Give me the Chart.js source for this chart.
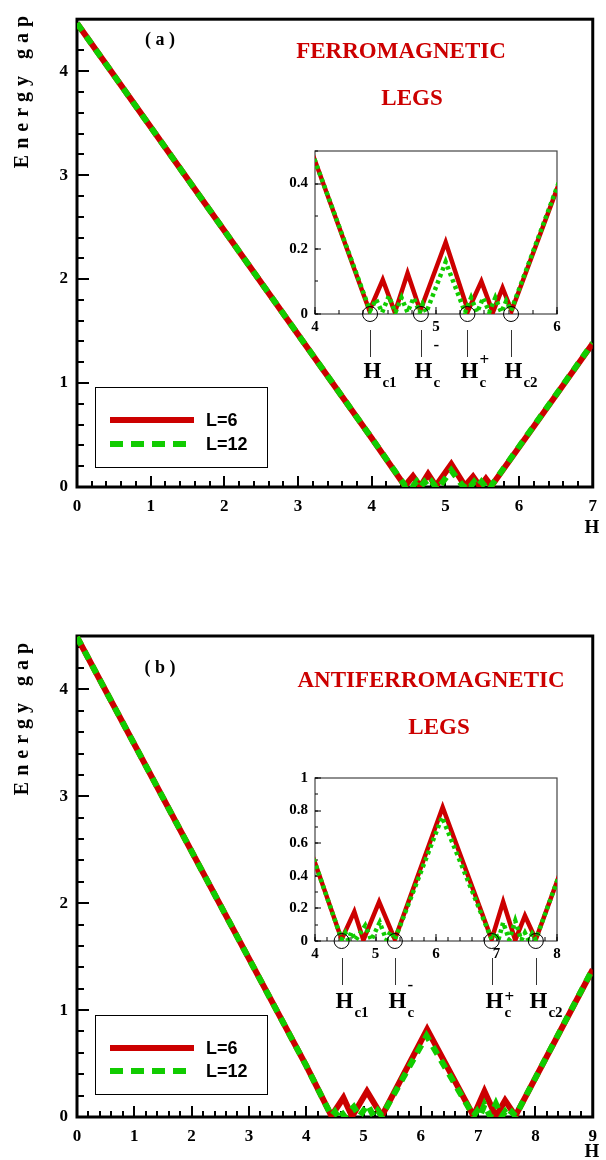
<!DOCTYPE html>
<html>
<head>
<meta charset="utf-8">
<script src="https://cdn.jsdelivr.net/npm/chart.js@4.4.1/dist/chart.umd.min.js"></script>
<style>
  body { margin: 0; background: #fff; }
  #wrap { position: relative; width: 606px; height: 1160px; overflow: hidden; }
  canvas { position: absolute; }
</style>
</head>
<body>
<div id="wrap">
  <canvas id="mainA" style="left:0px;top:0px" width="606" height="560"></canvas>
  <canvas id="mainB" style="left:0px;top:590px" width="606" height="570"></canvas>
  <canvas id="insetA" style="left:275px;top:135px" width="290" height="265"></canvas>
  <canvas id="insetB" style="left:275px;top:762px" width="290" height="265"></canvas>
</div>
<script>
const RED = "#cc0000";
const GREEN = "#11cc00";
const SERIF = "'Liberation Serif', 'Times New Roman', serif";
const SANS = "'Liberation Sans', Arial, sans-serif";

// (a) ferromagnetic legs
const hA6  = [0, 4, 4.45, 4.56, 4.66, 4.765, 4.87, 5.08, 5.265, 5.375, 5.47, 5.55, 5.625, 7];
const eA6  = [4.46, 0.47, 0.01, 0.105, 0.005, 0.125, 0.01, 0.22, 0.01, 0.10, 0.005, 0.08, 0.01, 1.38];
const hA12 = [0, 4, 4.455, 4.505, 4.555, 4.61, 4.665, 4.715, 4.765, 4.815, 4.865, 4.89, 4.92, 5.08, 5.24, 5.29, 5.34, 5.39, 5.44, 5.49, 5.54, 5.58, 5.62, 7];
const eA12 = [4.46, 0.47, 0.01, 0.045, 0.005, 0.055, 0.005, 0.05, 0.005, 0.05, 0.005, 0.03, 0.005, 0.16, 0.005, 0.05, 0.005, 0.05, 0.005, 0.05, 0.005, 0.04, 0.01, 1.385];
const hcA  = [4.455, 4.875, 5.26, 5.62];

// (b) antiferromagnetic legs
const hB6  = [0, 4, 4.44, 4.65, 4.80, 5.06, 5.32, 6.11, 6.92, 7.11, 7.31, 7.47, 7.65, 9];
const eB6  = [4.49, 0.48, 0.01, 0.18, 0.005, 0.24, 0.01, 0.82, 0.01, 0.24, 0.005, 0.155, 0.01, 1.38];
const hB12 = [0, 4, 4.44, 4.50, 4.55, 4.60, 4.67, 4.83, 4.93, 5.07, 5.18, 5.25, 5.32, 6.10, 6.92, 6.98, 7.03, 7.11, 7.21, 7.31, 7.41, 7.47, 7.53, 7.59, 7.65, 9];
const eB12 = [4.49, 0.48, 0.01, 0.05, 0.005, 0.055, 0.005, 0.095, 0.005, 0.114, 0.005, 0.06, 0.01, 0.76, 0.01, 0.055, 0.005, 0.114, 0.005, 0.124, 0.005, 0.05, 0.005, 0.045, 0.01, 1.385];
const hcB  = [4.44, 5.32, 6.92, 7.65];

const hcNames = [["c1", ""], ["c", "-"], ["c", "+"], ["c2", ""]];

const xTicksA = [0, 1, 2, 3, 4, 5, 6, 7];
const xTicksB = [0, 1, 2, 3, 4, 5, 6, 7, 8, 9];
const yTicksMain = [0, 1, 2, 3, 4];
const xTicksInA = [4, 5, 6];
const yTicksInA = [0, 0.2, 0.4];
const xTicksInB = [4, 5, 6, 7, 8];
const yTicksInB = [0, 0.2, 0.4, 0.6, 0.8, 1];

function pts(xs, ys) {
  return xs.map((x, i) => ({ x: x, y: ys[i] }));
}

function tickMarks(ctx, chart, axis, step, len) {
  const a = chart.chartArea, s = chart.scales[axis];
  const n = Math.floor((s.max - s.min) / step + 1e-6);
  ctx.beginPath();
  for (let i = 0; i <= n; i++) {
    const p = Math.round(s.getPixelForValue(s.min + i * step));
    if (axis === "x") { ctx.moveTo(p, a.bottom); ctx.lineTo(p, a.bottom - len); }
    else { ctx.moveTo(a.left, p); ctx.lineTo(a.left + len, p); }
  }
  ctx.stroke();
}

const decor = {
  id: "decor",
  beforeDatasetsDraw(chart, args, o) {
    const ctx = chart.ctx, a = chart.chartArea;
    ctx.save();
    ctx.strokeStyle = o.frameColor;
    ctx.lineWidth = o.frame;
    ctx.strokeRect(a.left, a.top, a.right - a.left, a.bottom - a.top);
    ctx.strokeStyle = "#000";
    ctx.lineWidth = o.tickWidth;
    tickMarks(ctx, chart, "x", o.xMinor[0], o.xMinor[1]);
    tickMarks(ctx, chart, "x", o.xMajor[0], o.xMajor[1]);
    tickMarks(ctx, chart, "y", o.yMinor[0], o.yMinor[1]);
    tickMarks(ctx, chart, "y", o.yMajor[0], o.yMajor[1]);
    ctx.restore();
  },
  afterDatasetsDraw(chart, args, o) {
    const ctx = chart.ctx, a = chart.chartArea;
    ctx.save();
    (o.texts || []).forEach(t => {
      ctx.font = t.font;
      ctx.fillStyle = t.color || "#000";
      ctx.textAlign = "center";
      ctx.textBaseline = "middle";
      if (t.rotate) {
        ctx.save();
        ctx.translate(t.x, t.y);
        ctx.rotate(-Math.PI / 2);
        ctx.letterSpacing = t.spacing || "0px";
        ctx.fillText(t.text, 0, 0);
        ctx.restore();
      } else {
        ctx.fillText(t.text, t.x, t.y);
      }
    });

    if (o.legend) {
      const L = o.legend;
      ctx.lineWidth = 1;
      ctx.strokeStyle = "#000";
      ctx.strokeRect(L.x + 0.5, L.y + 0.5, L.w, L.h);
      chart.data.datasets.slice(0, 2).forEach((ds, i) => {
        const y = L.y + L.rows[i];
        ctx.strokeStyle = ds.borderColor;
        ctx.lineWidth = 6;
        ctx.setLineDash(i === 1 ? [13, 8] : []);
        ctx.beginPath();
        ctx.moveTo(L.x + 15, y);
        ctx.lineTo(L.x + 99, y);
        ctx.stroke();
        ctx.setLineDash([]);
        ctx.fillStyle = "#000";
        ctx.font = "bold 18px " + SANS;
        ctx.textAlign = "left";
        ctx.textBaseline = "middle";
        ctx.fillText(ds.label, L.x + 111, y + 1);
      });
    }

    if (o.crit) {
      const C = o.crit, xs = chart.scales.x;
      C.values.forEach((v, i) => {
        const p = Math.round(xs.getPixelForValue(v)) + 0.5;
        ctx.strokeStyle = "#333";
        ctx.lineWidth = 1;
        ctx.beginPath();
        ctx.moveTo(p, a.bottom + C.lineTop);
        ctx.lineTo(p, a.bottom + C.lineTop + 27);
        ctx.stroke();
        const base = a.bottom + C.base;
        ctx.fillStyle = "#000";
        ctx.textBaseline = "alphabetic";
        ctx.textAlign = "left";
        ctx.font = "bold 23px " + SERIF;
        const hw = ctx.measureText("H").width;
        const hx = p - hw / 2 + 2;
        ctx.fillText("H", hx, base);
        ctx.font = "bold 15px " + SERIF;
        ctx.fillText(hcNames[i][0], hx + hw + 1, base + 9);
        const sup = hcNames[i][1];
        if (sup) {
          ctx.font = "bold 17px " + SERIF;
          ctx.fillText(sup, hx + hw + 1, base + (sup === "-" ? C.minusDy : C.plusDy));
        }
      });
    }
    ctx.restore();
  }
};

function tickFont(size) {
  return { family: SERIF, size: size, weight: "bold" };
}

function fmt(v) {
  return String(Math.round(v * 10) / 10);
}

function axis(min, max, ticks, size, pad, fit) {
  return {
    type: "linear", min: min, max: max,
    grid: { display: false, drawTicks: false },
    border: { display: false },
    afterBuildTicks: s => { s.ticks = ticks.map(v => ({ value: v })); },
    afterFit: fit,
    ticks: { font: tickFont(size), color: "#000", padding: pad, autoSkip: false, maxRotation: 0, callback: fmt }
  };
}

// green (L=12) has the lower order so it is painted over the red (L=6) curve
function lineSets(h6, e6, h12, e12, w, dash) {
  return [
    { label: "L=6", data: pts(h6, e6), borderColor: RED, borderWidth: w, pointRadius: 0, tension: 0, order: 2 },
    { label: "L=12", data: pts(h12, e12), borderColor: GREEN, borderWidth: w, borderDash: dash, pointRadius: 0, tension: 0, order: 1 }
  ];
}

function mainChart(id, h6, e6, h12, e12, xMax, xTicks, top, xH, deco) {
  return new Chart(document.getElementById(id), {
    type: "line",
    data: { datasets: lineSets(h6, e6, h12, e12, 6, [9, 7]) },
    options: {
      responsive: false, animation: false,
      layout: { padding: { left: 0, top: top, right: 7, bottom: 0 }, autoPadding: false },
      plugins: { legend: { display: false }, tooltip: { enabled: false }, decor: deco },
      scales: {
        x: axis(0, xMax, xTicks, 17, 9, s => { s.height = xH; }),
        y: axis(0, 4.5, yTicksMain, 17, 9, s => { s.width = 77; })
      }
    },
    plugins: [decor]
  });
}

function insetChart(id, h6, e6, h12, e12, xMin, xMax, xTicks, yMax, yTicks, hc, deco) {
  const sets = lineSets(h6, e6, h12, e12, 4.5, [3.5, 3.5]);
  sets.forEach(s => { s.clip = 0; });
  sets.push({
    label: "critical", data: hc.map(v => ({ x: v, y: 0 })), showLine: false, order: 0,
    pointRadius: 7.5, pointStyle: "circle", pointBorderColor: "#000", pointBorderWidth: 1,
    pointBackgroundColor: "rgba(0,0,0,0)", clip: false
  });
  return new Chart(document.getElementById(id), {
    type: "line",
    data: { datasets: sets },
    options: {
      responsive: false, animation: false,
      layout: { padding: { left: 0, top: 10, right: 8, bottom: 0 }, autoPadding: false },
      plugins: { legend: { display: false }, tooltip: { enabled: false }, decor: deco },
      scales: {
        x: axis(xMin, xMax, xTicks, 15, 4, s => { s.height = 86; }),
        y: axis(0, yMax, yTicks, 15, 7, s => { s.width = 40; })
      }
    },
    plugins: [decor]
  });
}

const mainTicks = { frameColor: "#000", frame: 3, tickWidth: 2, xMajor: [1, 11], xMinor: [0.2, 6], yMajor: [1, 12], yMinor: [0.2, 7] };

mainChart("mainA", hA6, eA6, hA12, eA12, 7, xTicksA, 9, 73, Object.assign({}, mainTicks, {
  texts: [
    { text: "( a )", x: 160, y: 40, font: "bold 18px " + SERIF },
    { text: "FERROMAGNETIC", x: 401, y: 52, font: "bold 23px " + SERIF, color: RED },
    { text: "LEGS", x: 412, y: 99, font: "bold 23px " + SERIF, color: RED },
    { text: "Energy gap", x: 23, y: 89, font: "bold 20px " + SERIF, rotate: true, spacing: "6px" },
    { text: "H", x: 592, y: 528, font: "bold 19px " + SERIF }
  ],
  legend: { x: 95, y: 387, w: 172, h: 80, rows: [33, 57] }
}));

mainChart("mainB", hB6, eB6, hB12, eB12, 9, xTicksB, 46, 43, Object.assign({}, mainTicks, {
  texts: [
    { text: "( b )", x: 160, y: 78, font: "bold 18px " + SERIF },
    { text: "ANTIFERROMAGNETIC", x: 431, y: 91, font: "bold 23px " + SERIF, color: RED },
    { text: "LEGS", x: 439, y: 138, font: "bold 23px " + SERIF, color: RED },
    { text: "Energy gap", x: 23, y: 126, font: "bold 20px " + SERIF, rotate: true, spacing: "6px" },
    { text: "H", x: 592, y: 562, font: "bold 19px " + SERIF }
  ],
  legend: { x: 95, y: 425, w: 172, h: 79, rows: [33, 56] }
}));

const insetTicks = { frameColor: "#444", frame: 1.2, tickWidth: 1, xMajor: [1, 7], xMinor: [0.2, 4], yMajor: [0.2, 6], yMinor: [0.1, 3] };

insetChart("insetA", hA6, eA6, hA12, eA12, 4, 6, xTicksInA, 0.5, yTicksInA, hcA, Object.assign({}, insetTicks, {
  crit: { values: hcA, lineTop: 16, base: 64, minusDy: -28, plusDy: -13 }
}));

insetChart("insetB", hB6, eB6, hB12, eB12, 4, 8, xTicksInB, 1, yTicksInB, hcB, Object.assign({}, insetTicks, {
  crit: { values: hcB, lineTop: 17, base: 67, minusDy: -18, plusDy: -6 }
}));
</script>
</body>
</html>
